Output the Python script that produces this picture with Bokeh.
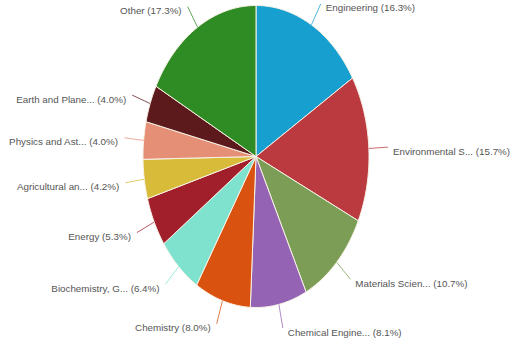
import numpy as np
from bokeh.plotting import figure
from bokeh.models import Range1d, ColumnDataSource
from bokeh.core.properties import value
from bokeh.embed import file_html
from bokeh.resources import INLINE

categories = ["Engineering", "Environmental S...", "Materials Scien...", "Chemical Engine...",
              "Chemistry", "Biochemistry, G...", "Energy", "Agricultural an...",
              "Physics and Ast...", "Earth and Plane...", "Other"]
shares = [16.3, 15.7, 10.7, 8.1, 8.0, 6.4, 5.3, 4.2, 4.0, 4.0, 17.3]
colors = ["#169fcf", "#ba3a40", "#7b9d56", "#9563b4", "#d9520f", "#7fe2cf",
          "#a01f2a", "#d8bb39", "#e58f76", "#5d1a1c", "#2f8b23"]

W, H = 516, 340
cx_px, cy_px = 255.5, 156.0   # pie centre in canvas pixels (from top-left)
rx_px, ry_px = 113.0, 151.0

p = figure(width=W, height=H, output_backend="svg", toolbar_location=None,
           x_axis_type=None, y_axis_type=None, min_border=0,
           x_range=Range1d(-cx_px / rx_px, (W - cx_px) / rx_px),
           y_range=Range1d(-(H - cy_px) / ry_px, cy_px / ry_px))
p.outline_line_color = None
p.grid.visible = False
p.background_fill_color = "white"
p.border_fill_color = "white"

vals = np.array(shares, dtype=float)
frac = vals / vals.sum()
ends = np.cumsum(frac)
starts = ends - frac

xs, ys = [], []
for s, e in zip(starts, ends):
    t = np.linspace(s, e, max(int((e - s) * 400), 8)) * 2 * np.pi
    xs.append([0.0] + list(np.sin(t)) + [0.0])
    ys.append([0.0] + list(np.cos(t)) + [0.0])

p.patches(xs=xs, ys=ys, fill_color=colors, line_color="#f7f2e6", line_width=1)

mid = (starts + ends) / 2 * 2 * np.pi
x0 = np.sin(mid) * 1.0
y0 = np.cos(mid) * 1.0
x1 = np.sin(mid) * 1.17
y1 = np.cos(mid) * 1.16
p.segment(x0=x0, y0=y0, x1=x1, y1=y1, line_color=colors, line_width=1, line_alpha=0.75)

labels = [f"{c} ({v:.1f}%)" for c, v in zip(categories, shares)]
right = np.sin(mid) >= 0
src = ColumnDataSource(dict(
    x=x1, y=y1, text=labels,
    align=["left" if r else "right" for r in right],
    xo=[5 if r else -6 for r in right],
))
p.text(x="x", y="y", text="text", source=src, text_align="align",
       x_offset="xo", y_offset=4, text_baseline="middle",
       text_font=value("Liberation Sans"), text_font_size="9.8px",
       text_color="#555555")

open("out.html", "w").write(file_html(p, INLINE))
